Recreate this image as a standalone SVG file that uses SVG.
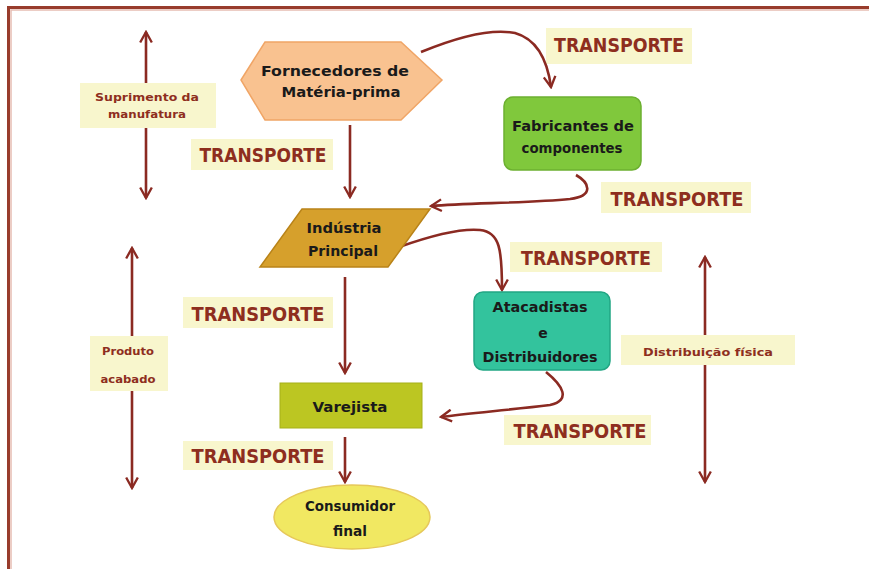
<svg xmlns="http://www.w3.org/2000/svg" width="869" height="569" viewBox="0 0 869 569">
  <defs>
    <style>
      .frame { stroke: #983c2c; stroke-width: 3; fill: none; }
      .frame-in { stroke: #e6bdb3; stroke-width: 1.5; fill: none; }
      .flow { stroke: #8b2a22; stroke-width: 2.6; fill: none; marker-end: url(#chev); }
      .span { stroke: #8b2a22; stroke-width: 2.6; fill: none; marker-start: url(#chev); marker-end: url(#chev); }
      .tag { fill: #f8f6cd; }
      .tag-text { font-family: "DejaVu Sans", "Liberation Sans", sans-serif; font-weight: bold; font-size: 19px; fill: #8e2e1e; text-anchor: middle; }
      .side-text { font-family: "DejaVu Sans", "Liberation Sans", sans-serif; font-weight: bold; font-size: 11px; fill: #8e2e1e; text-anchor: middle; }
      .node-text { font-family: "DejaVu Sans", "Liberation Sans", sans-serif; font-weight: bold; font-size: 14px; fill: #1a1a1a; text-anchor: middle; }
    </style>
    <marker id="chev" viewBox="0 0 12 12" refX="10" refY="6" markerWidth="14" markerHeight="14" markerUnits="userSpaceOnUse" orient="auto-start-reverse">
      <path d="M1,1 L10,6 L1,11" fill="none" stroke="#8b2a22" stroke-width="2"/>
    </marker>
  </defs>

  <rect width="869" height="569" fill="#ffffff"/>

  <!-- outer frame: top and left edges only -->
  <path class="frame" d="M8.5,569 L8.5,7.5 L869,7.5"/>
  <path class="frame-in" d="M11,569 L11,10 L869,10"/>

  <!-- side spans -->
  <g id="side-spans">
    <path class="span" d="M146,32 L146,198"/>
    <path class="span" d="M132,248 L132,488"/>
    <path class="span" d="M705,257 L705,482"/>
  </g>

  <g id="label-suprimento">
    <rect class="tag" x="80" y="83" width="136" height="45"/>
    <text class="side-text" x="147" y="101" textLength="104" lengthAdjust="spacingAndGlyphs">Suprimento da</text>
    <text class="side-text" x="147" y="118" textLength="78" lengthAdjust="spacingAndGlyphs">manufatura</text>
  </g>
  <g id="label-produto">
    <rect class="tag" x="90" y="336" width="78" height="55"/>
    <text class="side-text" x="128" y="355" textLength="52" lengthAdjust="spacingAndGlyphs">Produto</text>
    <text class="side-text" x="128" y="383" textLength="55" lengthAdjust="spacingAndGlyphs">acabado</text>
  </g>
  <g id="label-distribuicao">
    <rect class="tag" x="621" y="335" width="174" height="30"/>
    <text class="side-text" x="708" y="356" textLength="130" lengthAdjust="spacingAndGlyphs">Distribuição física</text>
  </g>

  <!-- transport tags -->
  <g id="transport-tags">
    <rect class="tag" x="546" y="28" width="146" height="36"/>
    <text class="tag-text" x="619" y="52" textLength="130" lengthAdjust="spacingAndGlyphs">TRANSPORTE</text>
    <rect class="tag" x="191" y="139" width="142" height="31"/>
    <text class="tag-text" x="263" y="162" textLength="127" lengthAdjust="spacingAndGlyphs">TRANSPORTE</text>
    <rect class="tag" x="601" y="182" width="150" height="31"/>
    <text class="tag-text" x="677" y="206" textLength="133" lengthAdjust="spacingAndGlyphs">TRANSPORTE</text>
    <rect class="tag" x="510" y="242" width="152" height="30"/>
    <text class="tag-text" x="586" y="265" textLength="130" lengthAdjust="spacingAndGlyphs">TRANSPORTE</text>
    <rect class="tag" x="183" y="297" width="150" height="31"/>
    <text class="tag-text" x="258" y="321" textLength="133" lengthAdjust="spacingAndGlyphs">TRANSPORTE</text>
    <rect class="tag" x="504" y="415" width="147" height="30"/>
    <text class="tag-text" x="580" y="438" textLength="133" lengthAdjust="spacingAndGlyphs">TRANSPORTE</text>
    <rect class="tag" x="183" y="441" width="150" height="29"/>
    <text class="tag-text" x="258" y="463" textLength="133" lengthAdjust="spacingAndGlyphs">TRANSPORTE</text>
  </g>

  <!-- connectors -->
  <g id="connectors">
    <path class="flow" d="M421,52 C455,38 490,28 515,33 C540,40 548,65 551,87"/>
    <path class="flow" d="M350,125 L350,197"/>
    <path class="flow" d="M576,175 C590,183 594,196 570,199 C530,203 470,203 431,206"/>
    <path class="flow" d="M399,247 C430,236 460,228 480,230 C500,232 502,250 502,290"/>
    <path class="flow" d="M345,277 L345,373"/>
    <path class="flow" d="M546,372 C562,385 572,400 550,405 C510,410 470,413 441,417"/>
    <path class="flow" d="M345,437 L345,482"/>
  </g>

  <!-- nodes -->
  <g id="fornecedores">
    <polygon points="241,80 265,42 401,42 442,80 401,120 265,120" fill="#f9c290" stroke="#f0a566" stroke-width="1.5"/>
    <text class="node-text" x="335" y="76" textLength="148" lengthAdjust="spacingAndGlyphs">Fornecedores de</text>
    <text class="node-text" x="341" y="97" textLength="119" lengthAdjust="spacingAndGlyphs">Matéria-prima</text>
  </g>

  <g id="fabricantes">
    <rect x="504" y="97" width="137" height="73" rx="9" fill="#80c83c" stroke="#6cb030" stroke-width="1.5"/>
    <text class="node-text" x="573" y="131" textLength="122" lengthAdjust="spacingAndGlyphs">Fabricantes de</text>
    <text class="node-text" x="572" y="153" textLength="101" lengthAdjust="spacingAndGlyphs">componentes</text>
  </g>

  <g id="industria">
    <polygon points="302,209 430,209 388,267 260,267" fill="#d6a02c" stroke="#b98318" stroke-width="1.5"/>
    <text class="node-text" x="344" y="233" textLength="75" lengthAdjust="spacingAndGlyphs">Indústria</text>
    <text class="node-text" x="343" y="256" textLength="70" lengthAdjust="spacingAndGlyphs">Principal</text>
  </g>

  <g id="atacadistas">
    <rect x="474" y="292" width="136" height="78" rx="9" fill="#33c39d" stroke="#22a684" stroke-width="1.5"/>
    <text class="node-text" x="540" y="312" textLength="95" lengthAdjust="spacingAndGlyphs">Atacadistas</text>
    <text class="node-text" x="543" y="338">e</text>
    <text class="node-text" x="540" y="362" textLength="115" lengthAdjust="spacingAndGlyphs">Distribuidores</text>
  </g>

  <g id="varejista">
    <rect x="280" y="383" width="142" height="45" fill="#bcc622" stroke="#a6b018" stroke-width="1"/>
    <text class="node-text" x="350" y="412" textLength="75" lengthAdjust="spacingAndGlyphs">Varejista</text>
  </g>

  <g id="consumidor">
    <ellipse cx="352" cy="517" rx="78" ry="32" fill="#f1e862" stroke="#e6c85a" stroke-width="1.5"/>
    <text class="node-text" x="350" y="511" textLength="90" lengthAdjust="spacingAndGlyphs">Consumidor</text>
    <text class="node-text" x="350" y="536" textLength="34" lengthAdjust="spacingAndGlyphs">final</text>
  </g>
</svg>
